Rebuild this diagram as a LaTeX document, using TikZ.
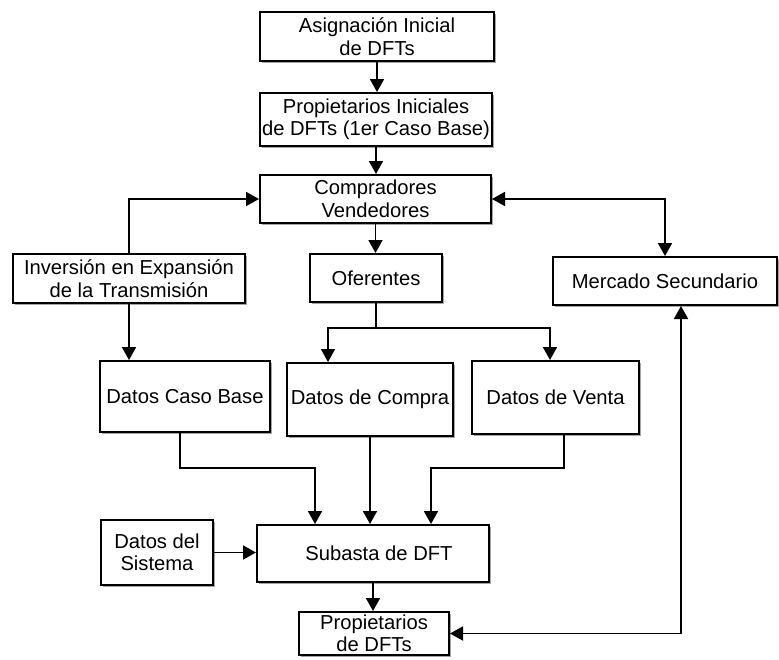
\documentclass[tikz,border=0pt]{standalone}
\usepackage{fontspec}
\setmainfont{Liberation Sans}
\usetikzlibrary{arrows.meta,shadows}
\begin{document}
\begin{tikzpicture}[x=1pt,y=-1pt,
  box/.style={draw=black, line width=2pt, fill=white, align=center, inner sep=1pt,
    font=\fontsize{20.2}{22.5}\selectfont,
    drop shadow={shadow xshift=2pt, shadow yshift=-2pt, opacity=0.5, fill=black!70}},
  link/.style={line width=1.8pt, draw=black},
  tip/.tip={Triangle[length=13pt,width=14pt]},
  arr/.style={link, -tip},
  arrs/.style={link, tip-tip}]
\useasboundingbox (0,0) rectangle (779,659);

% boxes
\node[box, minimum width=234pt, minimum height=49pt] (b1) at (377,36.5) {Asignación Inicial\\de DFTs};
\node[box, minimum width=232pt, minimum height=53pt] (b2) at (376,119.5) {Propietarios Iniciales\\de DFTs (1er Caso Base)};
\node[box, minimum width=231pt, minimum height=48pt] (b3) at (375.5,199) {Compradores\\Vendedores};
\node[box, minimum width=232pt, minimum height=49pt] (inv) at (129,278.5) {Inversión en Expansión\\de la Transmisión};
\node[box, minimum width=132pt, minimum height=48pt] (ofe) at (376,278) {Oferentes};
\node[box, minimum width=224pt, minimum height=48pt] (mer) at (665,281) {Mercado Secundario};
\node[box, minimum width=170pt, minimum height=71pt] (dcb) at (185,396.5) {Datos Caso Base};
\node[box, minimum width=166pt, minimum height=73pt] (dco) at (370,399.5) {Datos de Compra};
\node[box, minimum width=167pt, minimum height=73pt] (dve) at (555.5,397.5) {Datos de Venta};
\node[box, minimum width=232pt, minimum height=57pt] (sub) at (373,553.5) {\hspace{12pt}Subasta de DFT};
\node[box, minimum width=112pt, minimum height=65pt] (dsi) at (157,552.5) {Datos del\\Sistema};
\node[box, minimum width=150pt, minimum height=43pt] (pro) at (374,633.5) {Propietarios\\de DFTs};

% connectors
\draw[arr] (b1.south) -- (b1.south |- b2.north);
\draw[arr] (b2.south) -- (b2.south |- b3.north);
\draw[arr] (inv.north) |- (b3.west);
\draw[arrs] (b3.east) -| (mer.north);
\draw[arr] (b3.south) -- (b3.south |- ofe.north);

\coordinate (fork) at (376,328);
\draw[link] (ofe.south) -- (fork);
\draw[arr] (fork) -| ([xshift=-42pt]dco.north);
\draw[arr] (fork) -| ([xshift=-5.5pt]dve.north);

\draw[arr] (inv.south) -- (inv.south |- dcb.north);

\coordinate (jl) at (180,468);
\coordinate (jr) at (564,468);
\draw[arr] ([xshift=-5pt]dcb.south) -- (jl) -| ([xshift=-58pt]sub.north);
\draw[arr] (dco.south) -- (dco.south |- sub.north);
\draw[arr] ([xshift=8.5pt]dve.south) -- (jr) -| ([xshift=58pt]sub.north);

\draw[arr] (dsi.east) -- (dsi.east -| sub.west);
\draw[arr] (sub.south) -- (sub.south |- pro.north);
\draw[arrs] (pro.east) -| ([xshift=16pt]mer.south);
\end{tikzpicture}
\end{document}
